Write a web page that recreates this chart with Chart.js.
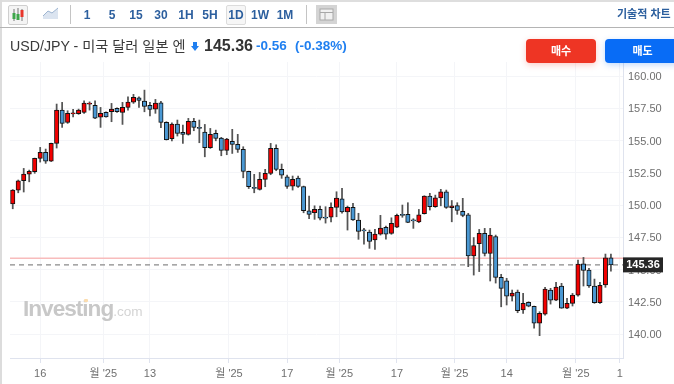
<!DOCTYPE html>
<html>
<head>
<meta charset="utf-8">
<title>USD/JPY</title>
<script src="https://cdn.jsdelivr.net/npm/chart.js@4"></script>
<style>
  html, body { margin: 0; padding: 0; background: #fff; width: 674px; height: 384px; overflow: hidden; }
  body { position: relative; font-family: 'Liberation Sans', 'Noto Sans CJK KR', sans-serif; }
  #priceChart { position: absolute; left: 0; top: 0; }
  .abs { position: absolute; white-space: nowrap; }
  .strip-top { left: 0; top: 0; width: 674px; height: 1.5px; background: #dedede; }
  .strip-left { left: 0; top: 0; width: 1.5px; height: 384px; background: #dcdcdc; }
  .strip-bar { left: 0; top: 27px; width: 674px; height: 1px; background: #b4b4b4; }
  .sep { top: 5px; width: 1px; height: 19px; background: #c4c4c4; }
  .iv { top: 6px; height: 18px; line-height: 18px; width: 24px; text-align: center; font-size: 12px; font-weight: 700; color: #2c5f9e; }
  .iv.on { left: 226px; top: 5px; width: 18px; height: 18px; border: 1px solid #dcdcdc; background: #f6f6f6; border-radius: 2px; }
  .icon-box { left: 8px; top: 5px; width: 18px; height: 18px; border: 1px solid #cfcfcf; border-radius: 2px; background: #f4f4f4; }
  .tech { left: 617px; top: 7px; line-height: 14px; font-size: 11px; font-weight: 700; color: #2c5f9e; }
  .title { left: 10px; top: 37px; line-height: 18px; font-size: 14.2px; color: #3a3a3a; }
  .last { left: 204px; top: 37px; line-height: 18px; font-size: 16px; font-weight: 700; color: #333; }
  .chg { top: 37px; line-height: 18px; font-size: 13.5px; font-weight: 700; color: #1f7ff0; }
  .btn { top: 39px; height: 24px; line-height: 24px; border-radius: 4px; color: #fff; text-align: center; font-size: 11px; font-weight: 700; }
  .buy { left: 526px; width: 70px; background: #ee3524; box-shadow: 0 2px 6px rgba(238,53,36,.25); }
  .sell { left: 605px; width: 75px; background: #086cf6; box-shadow: 0 2px 6px rgba(8,108,246,.25); }
  .wm { left: 23px; top: 296px; line-height: 26px; font-size: 22.6px; font-weight: 700; color: #c8c8c8; letter-spacing: -1px; }
  .wm span { font-size: 13.6px; font-weight: 400; color: #d4d4d4; letter-spacing: 0; }
  .wm-dot { left: 84px; top: 299px; width: 4px; height: 3px; background: #fbdcae; border-radius: 1px; }
</style>
</head>
<body>
<canvas id="priceChart" width="674" height="384"></canvas>

<div class="abs strip-top"></div>
<div class="abs strip-left"></div>
<div class="abs strip-bar"></div>

<div class="abs icon-box"></div>
<svg class="abs" style="left:8px;top:5px" width="20" height="20">
  <path d="M6 4v12M10 3v12M14 4v12" stroke="#777" stroke-width="1"/>
  <rect x="4.5" y="8" width="3" height="6" fill="#3da64a"/>
  <rect x="8.5" y="9" width="3" height="6" fill="#3da64a"/>
  <rect x="12.5" y="5" width="3" height="7" fill="#e8352a"/>
</svg>
<svg class="abs" style="left:43px;top:7px" width="16" height="13">
  <path d="M0 9L5 4L9 6L15 1V12H0Z" fill="#dbe4f0"/>
  <path d="M0 9L5 4L9 6L15 1" stroke="#9db4d0" fill="none"/>
</svg>
<div class="abs sep" style="left:70px"></div>
<div class="abs iv" style="left:75px">1</div>
<div class="abs iv" style="left:100px">5</div>
<div class="abs iv" style="left:124px">15</div>
<div class="abs iv" style="left:149px">30</div>
<div class="abs iv" style="left:174px">1H</div>
<div class="abs iv" style="left:198px">5H</div>
<div class="abs iv on">1D</div>
<div class="abs iv" style="left:248px">1W</div>
<div class="abs iv" style="left:273px">1M</div>
<div class="abs sep" style="left:306px"></div>
<svg class="abs" style="left:316px;top:5px" width="21" height="19">
  <rect x="0" y="0" width="21" height="19" fill="#d4d4d4"/>
  <rect x="4" y="4" width="13" height="11" fill="#f1f1f1" stroke="#a8a8a8"/>
  <path d="M4 7.5H17M9 7.5V15" stroke="#a8a8a8"/>
</svg>
<div class="abs tech">기술적 차트 :</div>

<div class="abs title">USD/JPY - 미국 달러 일본 엔</div>
<svg class="abs" style="left:191px;top:42px" width="8" height="9">
  <path d="M2 0H6V4H8L4 9L0 4H2Z" fill="#1f7ff0"/>
</svg>
<div class="abs last">145.36</div>
<div class="abs chg" style="left:256px">-0.56</div>
<div class="abs chg" style="left:295px">(-0.38%)</div>
<div class="abs btn buy">매수</div>
<div class="abs btn sell">매도</div>

<div class="abs wm">Investing<span>.com</span></div>
<div class="abs wm-dot"></div>

<script>
// daily candles
const opens = [150.08,151.16,151.88,152.4,152.58,153.62,154.08,153.41,154.78,157.36,
  156.41,157.07,157.08,157.18,157.82,157.73,156.82,157.18,157.23,157.49,
  157.18,157.57,157.98,158.32,158.06,157.73,157.44,157.93,156.41,155.14,
  156.28,155.63,155.48,156.49,156.02,155.66,154.44,155.56,155.19,154.24,
  154.94,154.7,154.32,152.61,151.37,151.22,151.99,152.46,154.39,152.77,
  152.19,151.47,152.09,151.43,149.56,149.4,149.66,149.07,149.05,149.82,
  150.49,149.46,149.82,148.84,148.07,147.9,147.29,147.75,148.27,147.8,
  148.29,149.28,149.28,148.85,148.7,149.33,150.7,149.87,150.56,151.03,
  149.79,149.96,149.51,149.25,146.05,147.01,147.8,146.24,147.56,144.39,
  144.13,142.94,143.25,141.86,142.46,142.15,140.85,141.53,143.41,142.63,
  143.72,142.01,142.38,143.02,145.45,144.96,143.72,142.43,143.8,145.91];
const highs = [151.2,151.94,152.84,152.71,153.64,154.47,154.34,154.8,157.83,157.96,
  157.31,157.42,157.44,158.08,158.0,158.08,157.57,157.23,157.88,157.54,
  157.96,158.39,158.58,158.39,158.91,157.96,158.19,158.04,156.46,156.38,
  156.59,156.2,156.72,156.72,156.59,156.25,155.94,155.81,155.25,155.17,
  155.87,155.48,154.52,152.63,152.38,152.53,152.77,154.78,154.67,153.18,
  152.32,152.25,152.25,151.47,150.7,149.94,149.92,149.87,150.18,151.03,
  151.29,149.92,150.13,149.36,148.19,148.06,148.11,149.2,148.37,149.01,
  149.3,150.0,150.18,148.94,149.66,150.72,150.91,150.77,151.22,151.16,
  150.35,150.18,150.52,149.36,147.48,148.11,148.19,148.19,147.67,144.63,
  144.32,143.41,143.41,143.15,142.5,142.17,141.73,143.62,143.54,144.01,
  143.93,142.77,143.15,145.73,145.94,145.09,144.26,144.01,146.2,146.2];
const lows = [149.71,150.95,151.01,151.8,152.46,153.33,153.23,153.37,154.42,156.02,
  156.33,156.84,157.03,157.11,157.36,156.69,156.02,156.82,156.46,157.18,
  156.25,157.36,157.88,157.57,157.23,156.9,157.11,155.99,155.04,154.98,
  155.35,154.78,155.42,155.76,154.83,153.74,154.39,154.98,153.82,153.9,
  154.0,154.08,152.11,151.28,150.95,151.16,151.42,152.35,152.66,152.07,
  151.29,151.16,151.37,149.4,148.94,148.89,148.84,148.6,148.7,149.09,
  149.36,148.06,148.8,147.34,146.97,146.64,146.56,147.67,147.36,147.73,
  148.24,149.05,148.63,148.19,148.63,149.3,149.61,149.82,149.94,149.74,
  148.7,149.28,149.09,145.22,144.57,144.84,146.05,144.11,143.95,142.11,
  142.25,142.56,141.65,141.6,142.11,140.46,139.87,141.47,142.32,142.58,
  141.99,141.96,142.17,142.94,143.72,143.62,142.38,142.38,143.62,144.88];
const closes = [151.16,151.88,152.4,152.61,153.62,154.08,153.41,154.78,157.36,156.33,
  157.11,157.15,157.36,157.91,157.9,156.74,157.11,156.84,157.44,157.23,
  157.57,157.98,158.35,158.12,157.65,157.42,157.91,156.41,155.06,156.28,
  155.56,155.48,156.49,156.02,155.94,154.44,155.48,155.17,154.24,155.11,
  154.7,154.32,152.61,151.42,151.29,151.99,152.46,154.39,152.77,152.32,
  151.45,151.99,151.45,149.56,149.28,149.66,148.99,148.99,149.82,150.54,
  149.46,149.82,148.84,147.96,147.99,147.18,147.75,148.22,147.75,148.58,
  149.2,149.2,148.66,148.77,149.25,150.7,149.87,150.56,151.03,149.82,
  149.94,149.59,149.2,146.05,146.86,147.8,146.25,147.67,144.39,143.54,
  142.94,143.18,141.8,142.38,142.15,140.85,141.6,143.49,142.63,143.64,
  142.01,142.38,143.02,145.42,144.94,143.72,142.43,143.77,145.91,145.36];

const yTickValues = [160,157.5,155,152.5,150,147.5,145,142.5,140];
const xTickValues = [5,16.5,25,39.4,50,59.5,70,80.5,90,102.6,110.6];
const xTickLabels = ["16","월 '25","13","월 '25","17","월 '25","17","월 '25","14","월 '25","1"];

const lastPrice = 145.36;
const prevLevel = 145.87;

const UP_COLOR = '#f20000';
const DOWN_COLOR = '#4a98d3';
const LABEL_FONT = { family: "'Liberation Sans', 'Noto Sans CJK KR', sans-serif", size: 11 };
const X_MIN = -0.5;
const X_MAX = 111.2;

// price tag on the axis, sits on top of the 145.00 tick
const priceTag = {
    id: 'priceTag',
    afterDraw(chart) {
        const ctx = chart.ctx;
        const y = chart.scales.y.getPixelForValue(lastPrice);
        ctx.save();
        ctx.fillStyle = '#262626';
        ctx.fillRect(623, y - 7.5, 40, 15);
        ctx.fillStyle = '#fff';
        ctx.font = "bold 11px 'Liberation Sans', sans-serif";
        ctx.textAlign = 'center';
        ctx.textBaseline = 'middle';
        ctx.fillText(lastPrice.toFixed(2), 643, y + 0.5);
        ctx.restore();
    }
};

new Chart(document.getElementById('priceChart'), {
    data: {
        datasets: [
            {
                type: 'bar',
                order: 1,
                grouped: false,
                data: opens.map((o, i) => ({ x: i, y: [o, closes[i]] })),
                backgroundColor: opens.map((o, i) => closes[i] >= o ? UP_COLOR : DOWN_COLOR),
                borderColor: '#111',
                borderWidth: 1,
                borderSkipped: false,
                barThickness: 4.4
            },
            {
                type: 'bar',
                order: 2,
                grouped: false,
                data: lows.map((l, i) => ({ x: i, y: [l, highs[i]] })),
                backgroundColor: '#555',
                borderWidth: 0,
                barThickness: 1.1
            },
            {
                type: 'line',
                order: 3,
                data: [{ x: X_MIN, y: prevLevel }, { x: X_MAX, y: prevLevel }],
                borderColor: '#f8bcbc',
                borderWidth: 1.5,
                pointRadius: 0
            },
            {
                type: 'line',
                order: 3,
                data: [{ x: X_MIN, y: lastPrice }, { x: X_MAX, y: lastPrice }],
                borderColor: '#8a8a8a',
                borderWidth: 1.2,
                borderDash: [5, 4],
                pointRadius: 0
            }
        ]
    },
    options: {
        responsive: false,
        animation: false,
        layout: { padding: { left: 10, top: 62, right: 0, bottom: 0 } },
        plugins: { legend: { display: false }, tooltip: { enabled: false } },
        scales: {
            x: {
                type: 'linear',
                offset: false,
                min: X_MIN,
                max: X_MAX,
                afterBuildTicks: scale => { scale.ticks = xTickValues.map(v => ({ value: v })); },
                afterFit: scale => {
                    scale.height = 26;
                    scale.paddingLeft = 0;
                    scale.paddingRight = 0;
                },
                grid: { offset: false, color: '#f4f5f8', tickColor: '#dfe3ee', tickLength: 5 },
                border: { color: '#dfe3ee' },
                ticks: {
                    autoSkip: false,
                    maxRotation: 0,
                    padding: 4,
                    color: '#6f6f6f',
                    font: LABEL_FONT,
                    callback: (value, index) => xTickLabels[index]
                }
            },
            y: {
                position: 'right',
                min: 138.14,
                max: 161.09,
                afterBuildTicks: scale => { scale.ticks = yTickValues.map(v => ({ value: v })); },
                afterFit: scale => {
                    scale.width = 51;
                    scale.paddingTop = 0;
                    scale.paddingBottom = 0;
                },
                grid: { color: '#f4f5f8', drawTicks: false },
                border: { color: '#dfe3ee' },
                ticks: {
                    padding: 5,
                    labelOffset: 1,
                    color: '#6f6f6f',
                    font: LABEL_FONT,
                    callback: value => value.toFixed(2)
                }
            }
        }
    },
    plugins: [priceTag]
});
</script>
</body>
</html>
